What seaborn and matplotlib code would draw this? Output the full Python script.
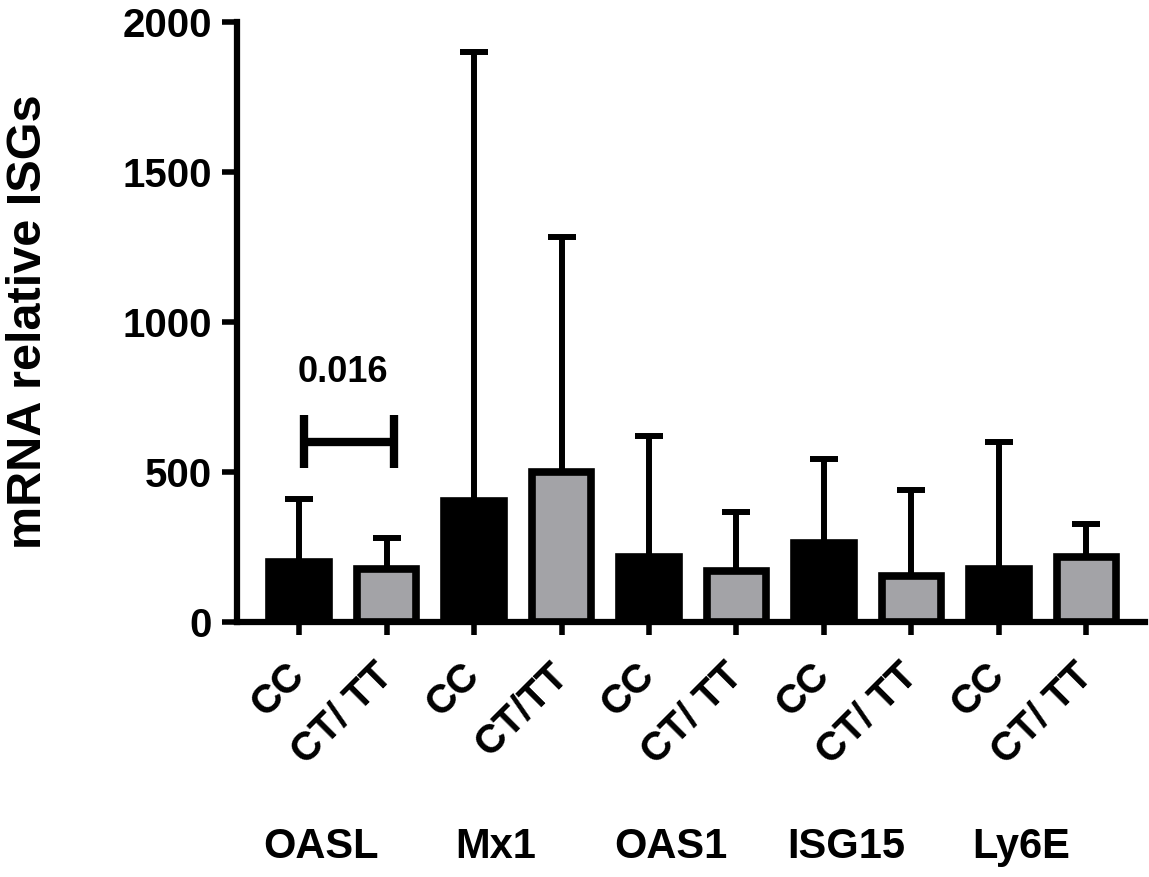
import numpy as np
import pandas as pd
import matplotlib
matplotlib.use("Agg")
import matplotlib.pyplot as plt
import matplotlib.transforms as mtransforms
import seaborn as sns

# values
genes = ["OASL", "Mx1", "OAS1", "ISG15", "Ly6E"]
genotypes = ["CC", "CT/TT"]
tick_labels = ["CC", "CT/ TT", "CC", "CT/TT", "CC", "CT/ TT", "CC", "CT/ TT", "CC", "CT/ TT"]
means = [200, 177, 404, 500, 216, 171, 263, 155, 176, 216]
sd_upper = [210, 103, 1495, 784, 405, 195, 279, 286, 423, 110]

p_value = "0.016"
sig_pair = (0, 1)
sig_y = 600

sns.set_style("ticks")
plt.rcParams['font.family'] = ['Liberation Sans', 'DejaVu Sans']
plt.rcParams['font.weight'] = 'bold'
for key in ['text.color', 'axes.labelcolor', 'xtick.color', 'ytick.color', 'axes.edgecolor']:
    plt.rcParams[key] = 'black'

rows = []
for i, g in enumerate(genes):
    for j, gt in enumerate(genotypes):
        k = i * 2 + j
        rows.append({"key": f"{g}_{gt}", "gene": g, "genotype": gt,
                     "mean": means[k], "sd": sd_upper[k]})
df = pd.DataFrame(rows)

fig = plt.figure(figsize=(11.49, 8.77), dpi=100)
ax = fig.add_axes([237 / 1149, 1 - 622 / 877, 908 / 1149, 600 / 877])

pos = np.arange(len(df))
# upper error bars only, drawn under the bars
ax.errorbar(pos, df["mean"], yerr=[np.zeros(len(df)), df["sd"]], fmt="none",
            ecolor="black", elinewidth=4.3, capsize=10, capthick=4.3, zorder=0.5)

sns.barplot(data=df, x="key", y="mean", hue="genotype",
            palette={"CC": "black", "CT/TT": "#a3a3a7"}, dodge=False,
            width=0.68, edgecolor="black", linewidth=5.5, saturation=1,
            errorbar=None, legend=False, ax=ax, zorder=1)

ax.set_ylim(0, 2000)
ax.set_xlim(-0.71, 9.67)
ax.set_yticks([0, 500, 1000, 1500, 2000])
ax.set_xticks(pos)
ax.set_xticklabels(tick_labels, rotation=45, ha="right", va="center",
                   rotation_mode="anchor", fontsize=29, fontweight="bold")
ax.tick_params(axis="y", labelsize=29, width=4, length=11, pad=7, colors="black")
ax.tick_params(axis="x", width=4, length=9, pad=25, colors="black")
for lab in ax.get_yticklabels():
    lab.set_fontweight("bold")
ax.set_xlabel("")
ax.set_ylabel("mRNA relative ISGs", fontsize=35, fontweight="bold", va="center")
ax.yaxis.set_label_coords(-0.23, 0.5)

sns.despine(ax=ax)
for side in ["left", "bottom"]:
    ax.spines[side].set_linewidth(4.5)
    ax.spines[side].set_color("black")

# gene names under the genotype pairs
trans = mtransforms.blended_transform_factory(ax.transData, ax.transAxes)
for i, g in enumerate(genes):
    ax.text(2 * i + 0.25, -0.375, g, transform=trans, ha="center", va="center",
            fontsize=30, fontweight="bold", clip_on=False)

# significance bracket
x0, x1 = sig_pair[0] + 0.06, sig_pair[1] + 0.09
ax.plot([x0, x1], [sig_y, sig_y], color="black", lw=6, solid_capstyle="butt")
ax.plot([x0, x0], [sig_y - 87, sig_y + 90], color="black", lw=6, solid_capstyle="butt")
ax.plot([x1, x1], [sig_y - 87, sig_y + 90], color="black", lw=6, solid_capstyle="butt")
ax.text((x0 + x1) / 2 - 0.08, sig_y + 233, p_value, ha="center", va="center",
        fontsize=26, fontweight="bold")

fig.savefig("out.png", dpi=100)
